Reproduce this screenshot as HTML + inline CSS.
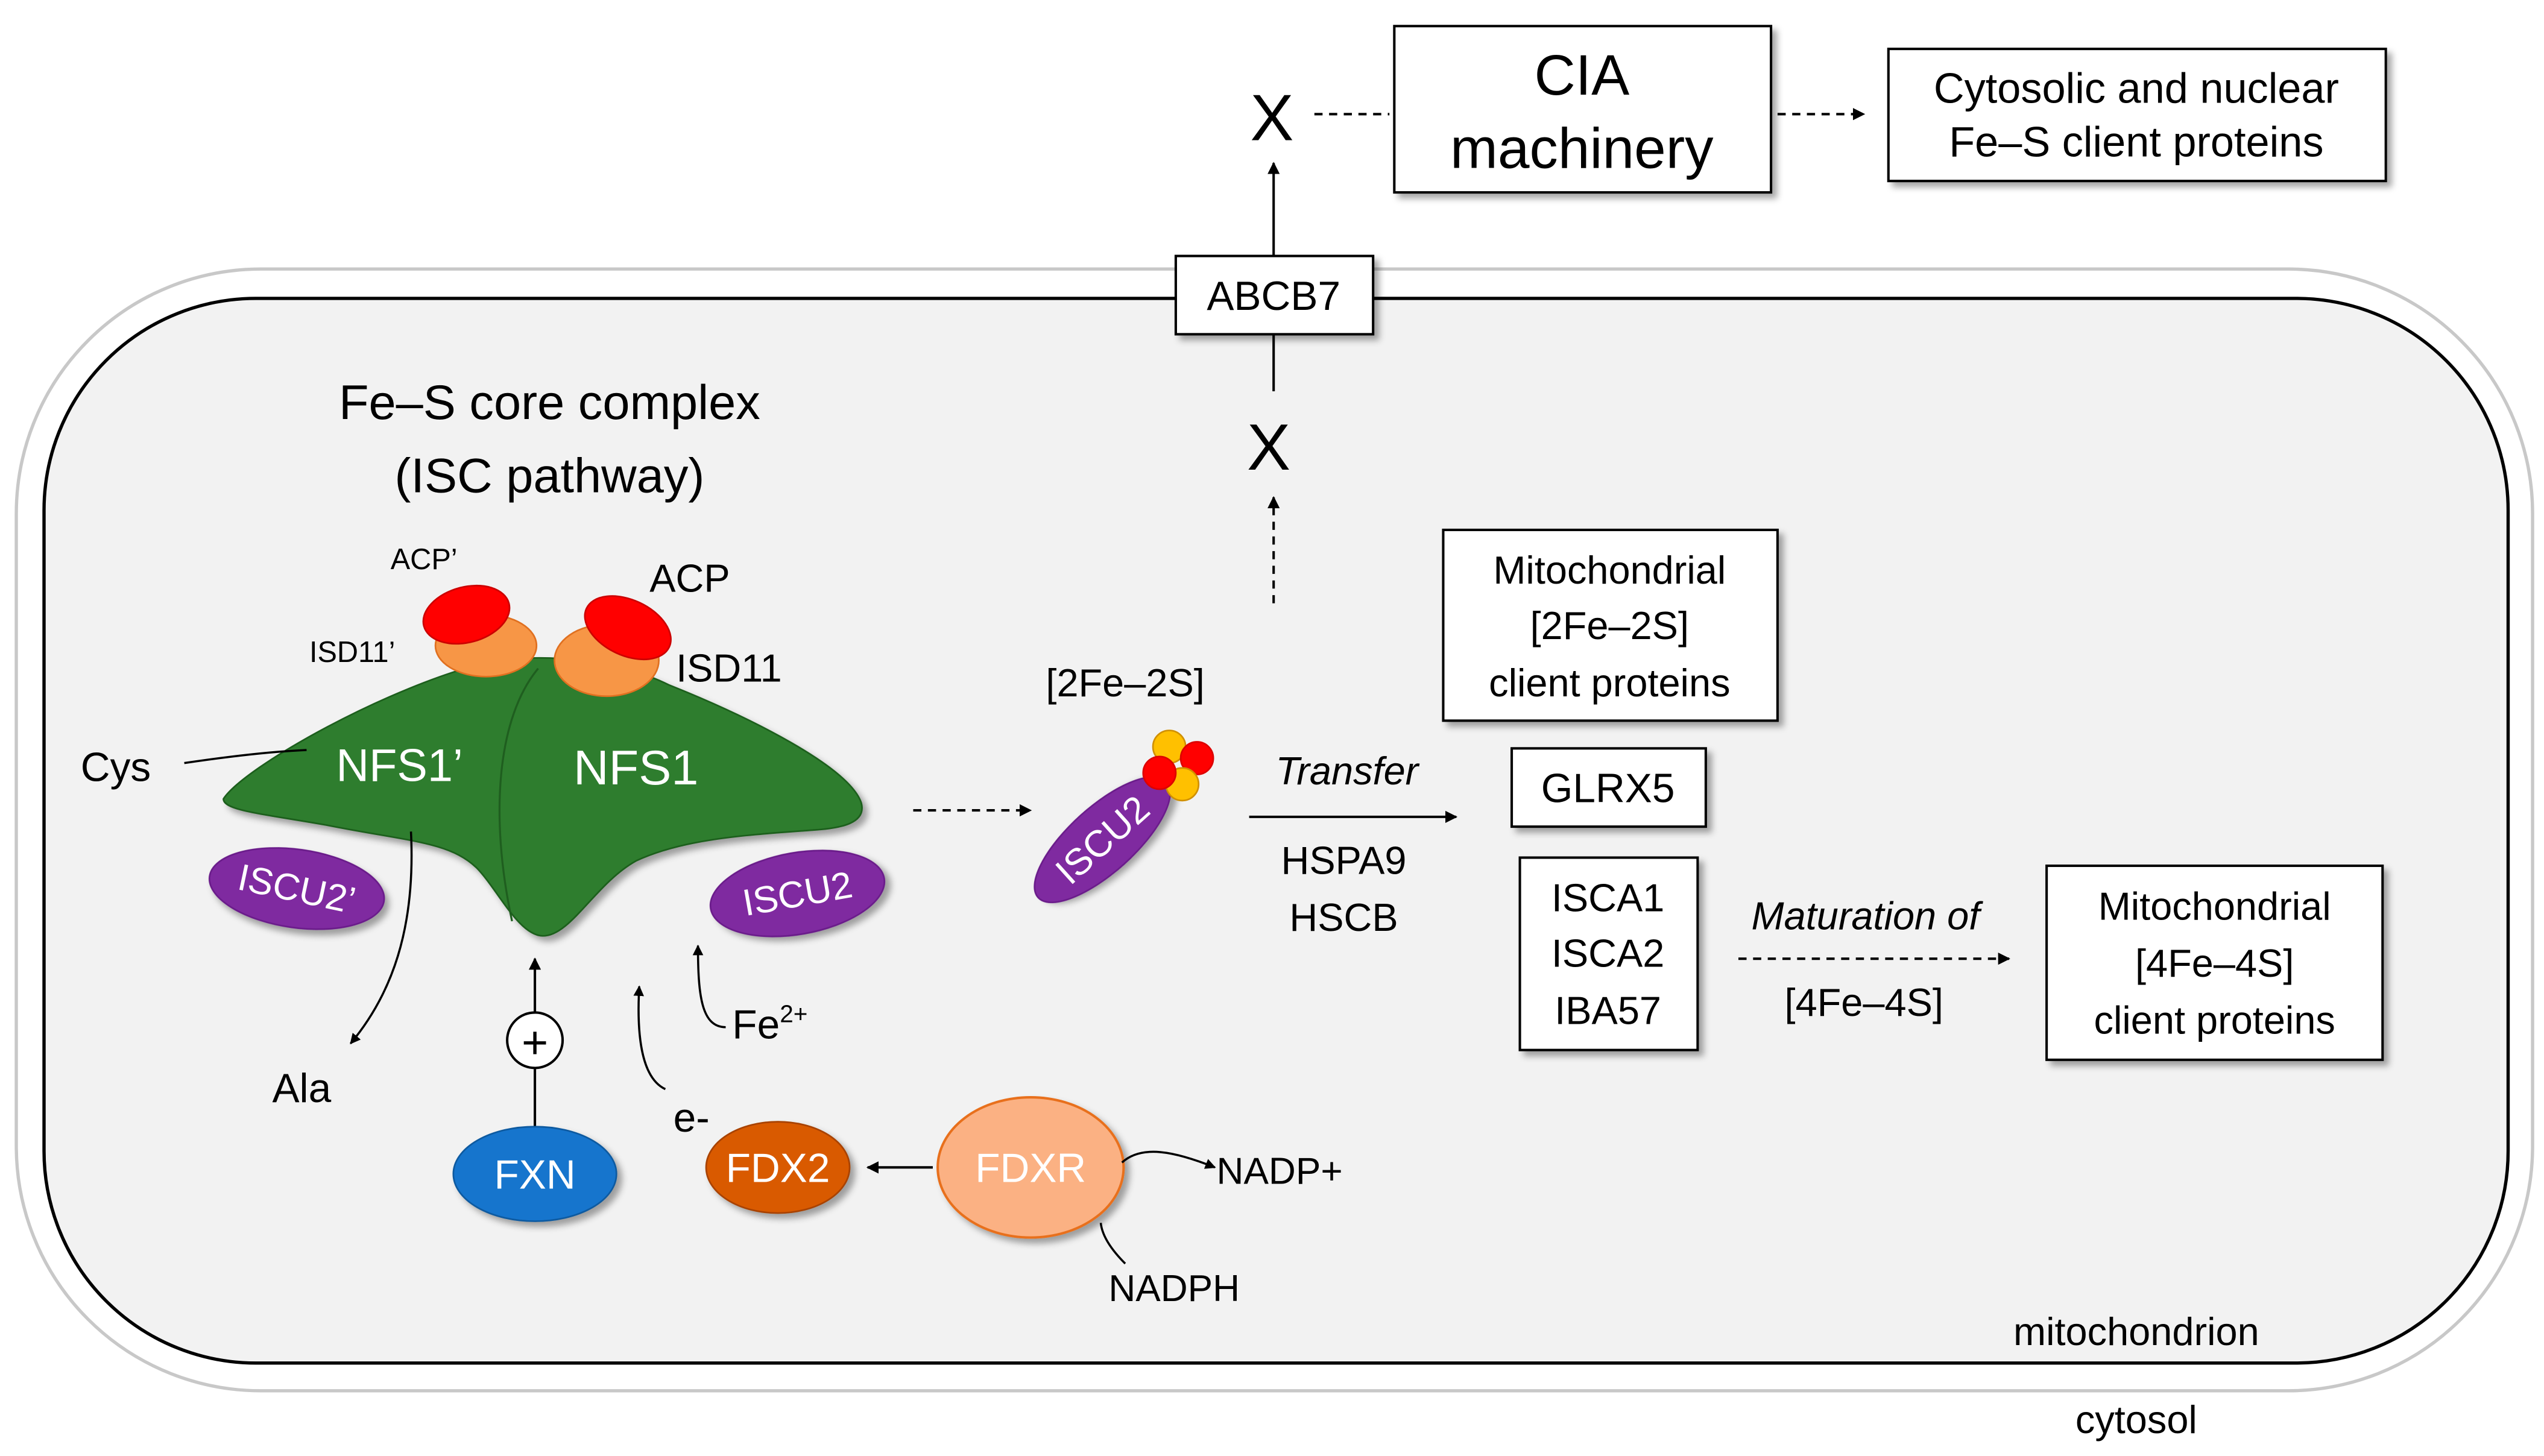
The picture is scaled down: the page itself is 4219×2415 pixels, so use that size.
<!DOCTYPE html>
<html><head><meta charset="utf-8"><style>
html,body{margin:0;padding:0;background:#fff;}
svg{display:block;}
text{font-family:"Liberation Sans",sans-serif;}
</style></head><body>
<svg width="4219" height="2415" viewBox="0 0 1560 893" preserveAspectRatio="none" xmlns="http://www.w3.org/2000/svg">
<defs>
<marker id="ah" viewBox="0 0 10 10" refX="9" refY="5" markerWidth="5" markerHeight="5" orient="auto-start-reverse"><path d="M0,0 L10,5 L0,10 z" fill="#000"/></marker>
<filter id="sh" x="-20%" y="-20%" width="150%" height="150%"><feDropShadow dx="3" dy="3" stdDeviation="2" flood-color="#000" flood-opacity="0.35"/></filter>
</defs>
<rect width="1560" height="893" fill="#fff"/>
<rect x="10" y="165" width="1543" height="688" rx="150" fill="#fff" stroke="#c8c8c8" stroke-width="2"/>
<rect x="27" y="183" width="1511" height="653" rx="130" fill="#f2f2f2" stroke="#000" stroke-width="2"/>

<line x1="781" y1="157" x2="781" y2="100" stroke="#000" stroke-width="1.5" marker-end="url(#ah)"/>
<text x="780" y="86" font-size="40" text-anchor="middle">X</text>
<line x1="806" y1="70" x2="852" y2="70" stroke="#000" stroke-width="1.5" stroke-dasharray="5,4"/>
<rect x="855" y="16" width="231" height="102" fill="#fff" stroke="#000" stroke-width="1.5" filter="url(#sh)"/>
<text x="970" y="58" font-size="35" text-anchor="middle">CIA</text>
<text x="970" y="103" font-size="35" text-anchor="middle">machinery</text>
<line x1="1090" y1="70" x2="1143" y2="70" stroke="#000" stroke-width="1.5" stroke-dasharray="5,4" marker-end="url(#ah)"/>
<rect x="1158" y="30" width="305" height="81" fill="#fff" stroke="#000" stroke-width="1.5" filter="url(#sh)"/>
<text x="1310" y="63" font-size="26" text-anchor="middle">Cytosolic and nuclear</text>
<text x="1310" y="96" font-size="26" text-anchor="middle">Fe–S client proteins</text>

<rect x="721" y="157" width="121" height="48" fill="#fff" stroke="#000" stroke-width="1.5" filter="url(#sh)"/>
<text x="781" y="190" font-size="25" text-anchor="middle">ABCB7</text>
<line x1="781" y1="205" x2="781" y2="240" stroke="#000" stroke-width="1.5"/>
<text x="778" y="288" font-size="40" text-anchor="middle">X</text>
<line x1="781" y1="370" x2="781" y2="305" stroke="#000" stroke-width="1.5" stroke-dasharray="5,4" marker-end="url(#ah)"/>

<text x="337" y="257" font-size="30" text-anchor="middle">Fe–S core complex</text>
<text x="337" y="302" font-size="30" text-anchor="middle">(ISC pathway)</text>

<ellipse cx="182" cy="545" rx="54" ry="24" transform="rotate(8 182 545)" fill="#7f2aa0" stroke="#6a1a8a" filter="url(#sh)"/>
<text x="182" y="553" font-size="23" fill="#fff" text-anchor="middle" transform="rotate(12 182 545)">ISCU2’</text>
<ellipse cx="489" cy="548" rx="54" ry="25" transform="rotate(-10 489 548)" fill="#7f2aa0" stroke="#6a1a8a" filter="url(#sh)"/>
<text x="489" y="556" font-size="23" fill="#fff" text-anchor="middle" transform="rotate(-10 489 548)">ISCU2</text>

<path d="M137,490 C150,470 240,420 300,406 C335,400 380,405 410,420 C460,440 520,470 528,492 C532,505 515,508 500,509 C460,512 420,514 390,528 C365,542 350,574 333,574 C318,574 305,545 292,532 C275,516 250,516 200,506 C160,499 137,497 137,490 Z" fill="#2e7d2e" stroke="#1f5e1f" stroke-width="1" filter="url(#sh)"/>
<path d="M330,410 C305,440 300,500 314,565" fill="none" stroke="#1f5e1f" stroke-width="1.2"/>

<ellipse cx="298" cy="396" rx="31" ry="19" fill="#f79646" stroke="#e07020"/>
<ellipse cx="286" cy="377" rx="27" ry="17" transform="rotate(-15 286 377)" fill="#f00" stroke="#c00"/>
<ellipse cx="372" cy="405" rx="32" ry="22" fill="#f79646" stroke="#e07020"/>
<ellipse cx="385" cy="385" rx="28" ry="17" transform="rotate(25 385 385)" fill="#f00" stroke="#c00"/>
<text x="260" y="349" font-size="18" text-anchor="middle">ACP’</text>
<text x="216" y="406" font-size="18" text-anchor="middle">ISD11’</text>
<text x="423" y="363" font-size="24" text-anchor="middle">ACP</text>
<text x="447" y="418" font-size="24" text-anchor="middle">ISD11</text>

<text x="245" y="479" font-size="28" fill="#fff" text-anchor="middle">NFS1’</text>
<text x="390" y="481" font-size="30" fill="#fff" text-anchor="middle">NFS1</text>

<text x="71" y="479" font-size="25" text-anchor="middle">Cys</text>
<path d="M113,468 C140,464 165,461 188,460" fill="none" stroke="#000" stroke-width="1.3"/>
<path d="M252,510 C255,570 240,610 215,640" fill="none" stroke="#000" stroke-width="1.3" marker-end="url(#ah)"/>
<text x="185" y="676" font-size="25" text-anchor="middle">Ala</text>

<line x1="328" y1="691" x2="328" y2="655" stroke="#000" stroke-width="1.5"/>
<circle cx="328" cy="638" r="17" fill="#fff" stroke="#000" stroke-width="1.5"/>
<text x="328" y="649" font-size="28" text-anchor="middle">+</text>
<line x1="328" y1="621" x2="328" y2="588" stroke="#000" stroke-width="1.5" marker-end="url(#ah)"/>
<ellipse cx="328" cy="720" rx="50" ry="29" fill="#1874cd" stroke="#0f5aa0" filter="url(#sh)"/>
<text x="328" y="729" font-size="25" fill="#fff" text-anchor="middle">FXN</text>

<path d="M408,668 C395,662 390,640 392,605" fill="none" stroke="#000" stroke-width="1.3" marker-end="url(#ah)"/>
<text x="424" y="694" font-size="25" text-anchor="middle">e-</text>
<path d="M445,630 C430,630 428,610 428,580" fill="none" stroke="#000" stroke-width="1.3" marker-end="url(#ah)"/>
<text x="449" y="637" font-size="25">Fe<tspan font-size="15" dy="-10">2+</tspan></text>

<ellipse cx="477" cy="716" rx="44" ry="28" fill="#d95a06" stroke="#a84300" filter="url(#sh)"/>
<text x="477" y="725" font-size="25" fill="#fff" text-anchor="middle">FDX2</text>
<line x1="572" y1="716" x2="532" y2="716" stroke="#000" stroke-width="1.5" marker-end="url(#ah)"/>
<ellipse cx="632" cy="716" rx="57" ry="43" fill="#fbb183" stroke="#e8701e" stroke-width="1.5" filter="url(#sh)"/>
<text x="632" y="725" font-size="25" fill="#fff" text-anchor="middle">FDXR</text>
<path d="M688,713 C700,702 720,706 745,716" fill="none" stroke="#000" stroke-width="1.3" marker-end="url(#ah)"/>
<text x="746" y="726" font-size="23">NADP+</text>
<path d="M675,750 C676,760 685,770 690,775" fill="none" stroke="#000" stroke-width="1.3"/>
<text x="720" y="798" font-size="23" text-anchor="middle">NADPH</text>

<line x1="560" y1="497" x2="632" y2="497" stroke="#000" stroke-width="1.5" stroke-dasharray="5,4" marker-end="url(#ah)"/>
<text x="690" y="427" font-size="24" text-anchor="middle">[2Fe–2S]</text>
<ellipse cx="676" cy="515" rx="53" ry="20" transform="rotate(-42 676 515)" fill="#7f2aa0" stroke="#6a1a8a" filter="url(#sh)"/>
<text x="676" y="523" font-size="23" fill="#fff" text-anchor="middle" transform="rotate(-42 676 515)">ISCU2</text>
<circle cx="717" cy="458" r="10" fill="#ffc000" stroke="#d09000"/>
<circle cx="734" cy="465" r="10" fill="#f00" stroke="#d00"/>
<circle cx="725" cy="481" r="10" fill="#ffc000" stroke="#d09000"/>
<circle cx="711" cy="474" r="10" fill="#f00" stroke="#d00"/>

<text x="826" y="481" font-size="24" font-style="italic" text-anchor="middle">Transfer</text>
<line x1="766" y1="501" x2="893" y2="501" stroke="#000" stroke-width="1.5" marker-end="url(#ah)"/>
<text x="824" y="536" font-size="24" text-anchor="middle">HSPA9</text>
<text x="824" y="571" font-size="24" text-anchor="middle">HSCB</text>

<rect x="885" y="325" width="205" height="117" fill="#fff" stroke="#000" stroke-width="1.5" filter="url(#sh)"/>
<text x="987" y="358" font-size="24" text-anchor="middle">Mitochondrial</text>
<text x="987" y="392" font-size="24" text-anchor="middle">[2Fe–2S]</text>
<text x="987" y="427" font-size="24" text-anchor="middle">client proteins</text>

<rect x="927" y="459" width="119" height="48" fill="#fff" stroke="#000" stroke-width="1.5" filter="url(#sh)"/>
<text x="986" y="492" font-size="25" text-anchor="middle">GLRX5</text>

<rect x="932" y="526" width="109" height="118" fill="#fff" stroke="#000" stroke-width="1.5" filter="url(#sh)"/>
<text x="986" y="559" font-size="24" text-anchor="middle">ISCA1</text>
<text x="986" y="593" font-size="24" text-anchor="middle">ISCA2</text>
<text x="986" y="628" font-size="24" text-anchor="middle">IBA57</text>

<text x="1144" y="570" font-size="24" font-style="italic" text-anchor="middle">Maturation of</text>
<line x1="1066" y1="588" x2="1232" y2="588" stroke="#000" stroke-width="1.5" stroke-dasharray="5,4" marker-end="url(#ah)"/>
<text x="1143" y="623" font-size="24" text-anchor="middle">[4Fe–4S]</text>

<rect x="1255" y="531" width="206" height="119" fill="#fff" stroke="#000" stroke-width="1.5" filter="url(#sh)"/>
<text x="1358" y="564" font-size="24" text-anchor="middle">Mitochondrial</text>
<text x="1358" y="599" font-size="24" text-anchor="middle">[4Fe–4S]</text>
<text x="1358" y="634" font-size="24" text-anchor="middle">client proteins</text>

<text x="1310" y="825" font-size="24" text-anchor="middle">mitochondrion</text>
<text x="1310" y="879" font-size="24" text-anchor="middle">cytosol</text>
</svg>
</body></html>
